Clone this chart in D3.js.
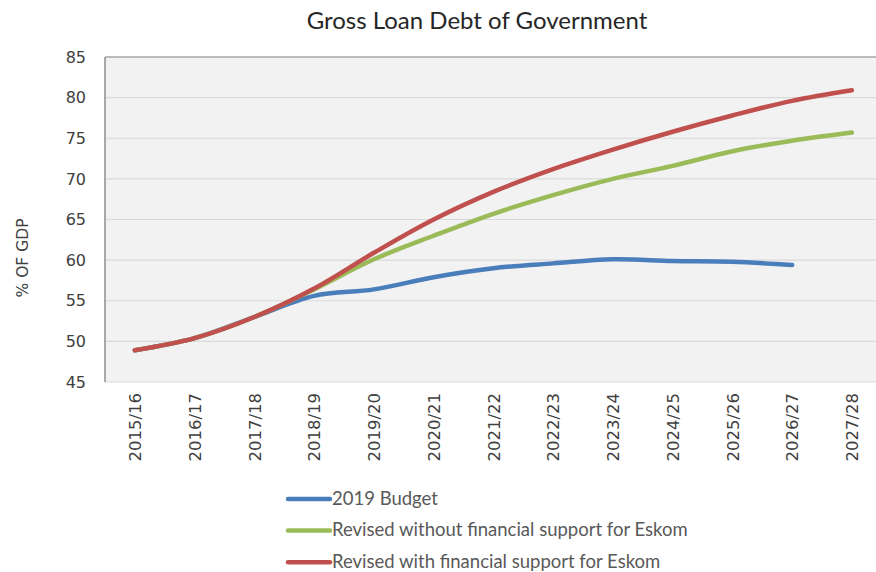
<!DOCTYPE html>
<html>
<head>
<meta charset="utf-8">
<script src="https://cdn.jsdelivr.net/npm/d3@7"></script>
<style>
  body { margin: 0; background: #fff; }
  svg { display: block; }
</style>
</head>
<body>
<div id="chart"></div>
<script>
// data
var years = ["2015/16","2016/17","2017/18","2018/19","2019/20","2020/21","2021/22",
             "2022/23","2023/24","2024/25","2025/26","2026/27","2027/28"];
var budget2019 = [48.9, 50.4, 53.0, 55.6, 56.4, 57.9, 59.0, 59.6, 60.1, 59.9, 59.8, 59.4, null];
var withoutEskom = [48.9, 50.4, 53.0, 56.4, 60.1, 63.0, 65.7, 68.0, 70.0, 71.6, 73.4, 74.7, 75.7];
var withEskom = [48.9, 50.4, 53.0, 56.5, 60.9, 65.0, 68.4, 71.2, 73.6, 75.8, 77.8, 79.6, 80.9];
var yTicks = [45, 50, 55, 60, 65, 70, 75, 80, 85];

var series = [
  {name: "2019 Budget", values: budget2019, color: "#4a7ebb"},
  {name: "Revised without financial support for Eskom", values: withoutEskom, color: "#9bbb59"},
  {name: "Revised with financial support for Eskom", values: withEskom, color: "#c0504d"}
];

var width = 876, height = 572;
var plotLeft = 105, plotTop = 57, plotBottom = 382, step = 59.75;

var svg = d3.select("#chart").append("svg")
    .attr("width", width)
    .attr("height", height);

var x = d3.scalePoint()
    .domain(years)
    .range([plotLeft, plotLeft + step * years.length])
    .padding(0.5);

var y = d3.scaleLinear()
    .domain([45, 85])
    .range([plotBottom, plotTop]);

// plot background
svg.append("rect")
    .attr("x", plotLeft).attr("y", plotTop)
    .attr("width", width - plotLeft).attr("height", plotBottom - plotTop)
    .attr("fill", "#f2f2f2");

// gridlines
svg.append("g").selectAll("line")
    .data(yTicks)
    .enter().append("line")
    .attr("x1", plotLeft).attr("x2", width)
    .attr("y1", function(d){ return y(d); })
    .attr("y2", function(d){ return y(d); })
    .attr("stroke", function(d){ return d === 85 ? "#a6a6a6" : "#d9d9d9"; })
    .attr("stroke-width", function(d){ return d === 85 ? 1.5 : 1.2; });

// left axis line
svg.append("line")
    .attr("x1", plotLeft).attr("x2", plotLeft)
    .attr("y1", plotTop).attr("y2", plotBottom)
    .attr("stroke", "#8c8c8c")
    .attr("stroke-width", 1.5);

// y axis labels
var yAxis = d3.axisLeft(y).tickValues(yTicks).tickSize(0).tickPadding(19);
var gy = svg.append("g")
    .attr("transform", "translate(" + plotLeft + ",0)")
    .call(yAxis);
gy.select(".domain").remove();
gy.selectAll("text")
    .attr("font-family", "DejaVu Sans, sans-serif")
    .attr("font-size", 16)
    .attr("fill", "#404040");

// x axis labels
var xAxis = d3.axisBottom(x).tickSize(0).tickPadding(0);
var gx = svg.append("g")
    .attr("transform", "translate(0," + plotBottom + ")")
    .call(xAxis);
gx.select(".domain").remove();
gx.selectAll("text")
    .attr("font-family", "DejaVu Sans, sans-serif")
    .attr("font-size", 16.5)
    .attr("fill", "#404040")
    .attr("text-anchor", "end")
    .attr("dy", "0.35em")
    .attr("transform", "translate(0,11) rotate(-90)")
    .attr("x", 0).attr("y", 0);

// lines
var line = d3.line()
    .defined(function(d){ return d != null; })
    .x(function(d, i){ return x(years[i]); })
    .y(function(d){ return y(d); })
    .curve(d3.curveCatmullRom.alpha(0.5));

svg.append("clipPath").attr("id", "plotclip")
    .append("rect")
    .attr("x", plotLeft).attr("y", 0).attr("width", width - plotLeft).attr("height", height);

svg.append("g").attr("clip-path", "url(#plotclip)")
    .selectAll("path")
    .data(series)
    .enter().append("path")
    .attr("d", function(d){ return line(d.values); })
    .attr("fill", "none")
    .attr("stroke", function(d){ return d.color; })
    .attr("stroke-width", 4.5)
    .attr("stroke-linecap", "round")
    .attr("stroke-linejoin", "round");

// title
svg.append("text")
    .attr("x", 477).attr("y", 29)
    .attr("text-anchor", "middle")
    .attr("font-family", "Lato, sans-serif")
    .attr("font-size", 24)
    .attr("fill", "#262626")
    .text("Gross Loan Debt of Government");

// y title
svg.append("text")
    .attr("transform", "translate(28,258) rotate(-90)")
    .attr("text-anchor", "middle")
    .attr("font-family", "DejaVu Sans, sans-serif")
    .attr("font-size", 15.5)
    .attr("fill", "#404040")
    .text("% OF GDP");

// legend
var legend = svg.append("g").selectAll("g")
    .data(series)
    .enter().append("g")
    .attr("transform", function(d, i){ return "translate(288," + (499 + i * 31.6) + ")"; });

legend.append("line")
    .attr("x1", 0).attr("x2", 42)
    .attr("y1", 0).attr("y2", 0)
    .attr("stroke", function(d){ return d.color; })
    .attr("stroke-width", 4.5)
    .attr("stroke-linecap", "round");

legend.append("text")
    .attr("x", 44).attr("y", 0)
    .attr("dy", "0.3em")
    .attr("font-family", "Lato, sans-serif")
    .attr("font-size", 18.5)
    .attr("fill", "#595959")
    .text(function(d){ return d.name; });
</script>
</body>
</html>
